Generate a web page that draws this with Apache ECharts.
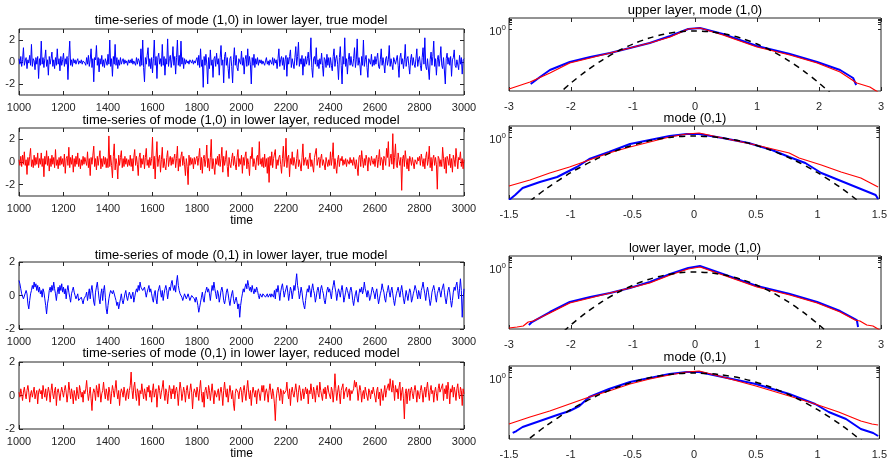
<!DOCTYPE html>
<html><head><meta charset="utf-8">
<script src="https://cdn.jsdelivr.net/npm/echarts@6/dist/echarts.min.js"></script>
<style>html,body{margin:0;padding:0;background:#fff}#c{width:890px;height:463px}</style>
</head><body><div id="c"></div>
<script>
// ---------- time axis ----------
const timeStart = 1000, timeStep = 4;
const timeTicks = [1000, 1200, 1400, 1600, 1800, 2000, 2200, 2400, 2600, 2800, 3000];

// ---------- time series ----------
const mode10TrueLower = [
.3,-.2,.5,-.4,.2,1.3,-.3,.1,.4,-.6,.2,-.1,.6,-.3,1.6,-.4,.3,.1,-.7,.4,-.2,.5,-1.5,.3,-.3,
1.9,-.2,.4,-.5,.3,1.1,-.4,.2,-1.2,.5,-.2,.3,.9,-.4,.2,-.6,.4,-.3,1.2,-.2,.3,-.8,.5,-.3,.2,
.8,-.4,.3,-.2,.5,-1.6,.4,1.9,-.3,.2,-.4,.3,-.1,.2,-.2,.1,.3,-.2,.1,-.1,.2,-.2,.1,.2,-.1,
-.3,.4,-.2,.6,-.4,.2,1.2,-.5,.3,-1.8,.4,.2,1.5,-.3,.4,-.9,.3,-.2,.6,-.4,.2,-.5,.3,.4,-.3,
.7,-.2,2.0,-.4,.3,-1.3,.5,-.2,1.6,-.3,.4,-.6,.2,-.3,.4,-.2,.1,.3,-.2,.2,-.1,.1,-.3,.2,-.1,
.2,-.1,.3,-.2,.1,.2,-.3,.4,-.2,.3,.1,-.4,1.2,-.3,2.0,-.5,-1.8,.4,-.2,.6,1.3,-.4,.3,-.6,.4,
-1.0,.3,2.0,-.3,.5,-1.5,.4,.8,-.2,.3,-.4,1.6,-.3,.5,-1.2,.3,-.2,2.1,-.4,.3,.6,-.5,.2,1.4,-.3,
.5,-1.1,.4,2.0,-.3,.6,-.4,1.9,-.2,.4,-.6,.3,-.2,.2,-.1,.1,-.2,.2,.1,-.1,.2,-.2,.1,-.1,.2,
.4,-.3,.6,-.5,1.2,-.4,.2,-2.3,.5,-.3,.7,-.2,-2.0,.4,-.6,1.1,-.3,.2,-1.4,.3,.5,-.4,.8,-.2,.3,
-1.2,.4,1.5,-.3,.2,-1.9,.5,.9,-.3,.4,-.6,-1.5,.3,.5,-.4,-1.9,.2,1.3,-.3,.6,-.5,-.8,.3,.4,-.2,
1.0,-.3,.4,-1.1,.2,.6,-.4,1.2,-.3,.5,-.2,-2.0,.4,-.3,.7,-.5,.3,-.2,.4,-.3,.2,-.1,.2,-.2,.1,
.2,-.3,.1,.4,-.2,.1,-.3,.2,.1,-.2,.4,-.3,.3,-.1,.2,-.6,.3,1.2,-.4,.2,.5,-.3,.4,-.7,.2,
.6,-1.3,.4,-.2,.5,1.1,-.5,.3,.2,-.6,.4,1.4,-.3,.5,1.8,-.4,.3,-.2,.6,-1.2,.3,-.4,.5,-.2,.3,
.9,-.3,.4,2.2,-.5,-1.4,.3,.5,-.2,1.3,-.4,.2,-.6,.3,-.2,.8,-.3,-1.3,.4,.2,-.5,.7,-.3,.4,-.5,
.4,-.3,-.8,.5,1.2,-.4,.3,.6,-.2,-1.6,.4,1.4,-.3,-2.0,.5,-.2,2.2,-.4,.3,-1.1,.2,.8,-.3,.5,-.2,
-.4,.3,1.3,-.5,.2,2.1,-.3,.4,-.2,-1.2,.5,-.3,2.0,-.4,.2,.6,-.5,-1.4,.3,.4,-.2,.7,-.4,.2,-.3,
.5,-.2,.3,.8,-.4,-.6,.2,1.2,-.3,.4,-.2,-1.0,.3,.5,-.3,.2,1.5,-.4,.3,-.2,-.7,.4,.3,-.2,-.3,
.6,-.3,-1.4,.4,.8,-.2,.3,-.6,.2,1.6,-.4,.3,.5,-.3,-1.1,.2,.7,-.3,.4,-.2,-.5,.3,1.2,-.4,.2,
.5,-.3,-.8,.4,1.3,-.2,2.2,-.4,-.7,.3,.4,-1.6,.2,.9,-.3,.5,1.9,-.4,.3,-1.2,.2,.6,-.4,.3,1.4,
-.3,-.6,.4,.5,-2.0,.3,.8,-.2,.4,-.3,.5,-1.3,.2,.4,1.1,-.3,-.5,.2,.3,-.7,.6,-.2,.4,-1.1,.2,
.3];
const mode10ReducedLower = [
.2,-.3,.5,-.4,.6,-.2,.9,-.3,.2,-1.1,.4,-.3,.5,1.2,-.4,.2,-.5,.6,-.3,.4,-.2,.8,-.5,.3,-.2,
.8,-.4,.3,-1.3,.5,-.2,1.0,-.3,.5,-.8,.3,-.4,.6,-.2,.4,-.5,1.1,-.3,.2,-.6,.4,-.3,.5,-.2,.3,
-.4,.7,-1.0,.3,.5,-.3,1.3,-.5,.4,-.2,.6,-.9,.3,-.4,.5,-.2,.8,-.4,.3,-.6,.2,-.3,.5,-.2,.4,
.5,-.3,.9,-.5,.3,-1.2,.4,-.2,.6,1.4,-.4,.3,-.7,.5,-.3,.4,1.0,-.6,.3,-.4,.5,-.2,.4,-.5,.3,
-.5,2.3,-.4,.6,-.3,-1.4,.5,1.6,-.7,.3,-.2,-1.5,.6,-.3,.4,1.0,-.5,.3,-.4,.5,-.2,.3,-.4,.2,-.3,
.6,-.4,.3,-.8,.4,1.1,-.3,.5,-.2,-1.2,.4,.8,-.5,.3,-.2,.6,-.6,.4,1.2,-.3,.2,-.5,.4,-.3,.3,
2.2,-.6,.5,-1.5,.4,1.8,-.4,.3,.6,-.9,.2,1.3,-.5,.3,-.4,-.7,.4,1.0,-.4,.2,.5,-.3,.4,-.2,.3,
.7,-.5,.3,1.4,-.8,.3,-.4,.5,.9,-.3,.5,-.2,-1.2,.3,-.4,-2.0,.6,-.3,.4,-.2,.3,-.6,.4,-.2,.3,
.5,-.3,.4,1.2,-.7,.4,-1.0,.3,.6,-.4,.2,1.5,-.5,.3,-.8,.4,2.0,-.6,.3,.4,-1.1,.3,-.2,.5,-.3,
.7,-.4,.3,1.3,-.9,.5,-.3,.2,1.0,-.4,-1.3,.4,-.2,-.5,.3,.8,-.3,.5,-.2,-.7,.4,1.1,-.4,.3,-.2,
.6,-1.0,.4,-.3,.5,.9,-.6,.3,-.2,-1.2,.5,.3,1.3,-.4,.3,-.2,-.7,.4,.6,-.3,1.8,-.2,.3,-.4,.4,
-.5,.7,-.4,.3,-1.0,.4,-1.8,.5,-.3,.9,-.5,.3,.4,1.1,-.6,.2,-.3,.4,.6,-.2,-1.0,.3,1.4,-.4,.2,
2.1,-.5,.4,.6,-1.3,.3,-.2,.9,-.3,.4,.5,-.6,.3,1.1,-.4,.2,.3,-.8,.4,1.6,-.3,.2,.4,-.3,.2,
-.6,.3,.8,-.4,.2,.3,-.9,.4,.5,1.2,-.3,.2,.4,-.5,.3,.7,-.3,.2,.3,-.7,.4,.5,-.4,.2,-.3,
.9,-.3,.4,1.7,-.6,.3,.4,-1.0,.2,.6,-.4,.3,.1,.5,-.3,.2,-.2,.3,-.4,.2,.3,-.2,.4,-.1,.2,
-.3,.4,.5,-.6,.2,.3,-1.2,.4,.6,-.4,1.0,.2,-.5,.3,-.3,.6,.2,-.8,.4,.2,-.3,.5,.1,-.2,.3,
-.4,.3,.6,-.5,.2,1.1,-.3,.4,.2,-.7,.5,.3,-.3,1.2,.4,1.8,-.4,.3,.7,-.2,2.5,-.6,.4,1.6,-.3,
-.5,.8,.2,-.3,.4,-2.5,.3,.6,-.4,1.0,.2,-.6,.3,-.8,.5,.2,-.3,.4,.3,-.6,.2,.3,-.2,.4,.1,
.5,-.3,.7,.2,-.4,.3,-.6,.4,.9,-.3,.2,1.4,-.5,.4,-.8,.3,.6,-.3,.4,-.2,-2.4,.5,.3,-.4,.2,
-.4,1.3,.3,-.6,.4,-1.0,.5,.2,-.3,.7,-.5,.3,-.9,.6,.2,-.4,1.2,.3,-.6,.4,.2,.9,-.4,.3,-.6,
.2];
const mode01TrueLower = [
.9,.7,.4,.1,0,-.2,-.3,-.1,.3,.1,-.5,-.8,-.3,.1,.3,.6,.4,.8,.5,.7,.3,.6,.2,.5,.1,
.3,-.1,.4,.2,-.2,-.6,-1.1,-.5,-.2,.3,.5,.2,.6,.3,.8,.4,.1,-.3,.2,.5,.1,.6,.3,.7,.2,
.5,.1,.4,-.2,.3,.6,.2,-.1,-.4,.1,.3,.5,.2,0,-.2,-.1,.1,-.3,-.2,-.4,-.1,-.3,-.5,-.2,-.3,
0,.2,-.3,.1,.4,-.2,.3,.6,.1,-.4,-.6,.2,.5,.8,.3,-.2,-.5,.1,.4,-.3,.3,.6,-.1,-.8,-1.1,
-.6,-.2,.1,.3,.2,.1,.3,.2,-.1,-.3,-.6,-.4,-.8,-.5,-.2,.1,-.3,-.5,-.2,.1,.3,-.1,-.3,0,.2,
.1,-.2,-.1,.2,-.4,-.1,.2,.4,.2,.6,.3,.8,.5,.6,.3,.2,.5,.2,-.1,.2,.4,.6,.2,.4,.1,
-.2,-.4,.1,.3,-.2,-.5,.2,.4,.6,.2,-.1,.3,-.3,.1,.4,.6,.3,-.2,.2,.5,.3,.7,.9,.5,.3,
.6,.2,.8,1.2,.6,.3,.1,0,-.1,-.3,-.1,.1,0,-.2,-.1,.1,-.1,-.3,-.2,0,-.1,.1,-.2,-.4,-.1,
-.3,-.6,-1.0,-.7,-.4,-.1,.2,-.2,-.4,.1,.3,.5,.2,.4,.1,-.3,.2,.6,.3,.8,.4,.1,-.2,.3,.1,
-.4,-.1,.3,.5,.2,-.3,-.5,-.2,.2,.4,.1,-.3,-.6,-.2,.1,.3,-.2,-.5,-.3,-.1,-.4,-.8,-.5,-1.3,-.6,
-.2,.1,.4,.2,.5,.7,.4,.9,.6,.3,.5,.2,.6,.3,.1,.4,.2,.5,.3,0,-.2,.1,.2,-.1,.1,
0,.1,-.1,0,.1,-.1,0,.1,-.1,.1,.2,-.1,.3,-.2,.4,.2,.6,.2,-.3,.2,.5,.7,.3,-.1,.2,
.4,.6,.2,-.3,.1,.5,.3,-.2,.2,.6,.3,.8,1.3,.6,.3,-.2,.1,.5,.2,-.3,-.6,-.8,-.3,.1,.4,
.2,.6,.3,-.1,.4,.7,.3,.1,-.4,-.1,.3,.5,.2,-.2,.4,.6,.3,.1,-.3,-.5,-.1,.3,.5,.2,.4,
.1,-.2,.3,.6,.9,.5,.2,-.3,.1,.4,.2,-.1,.3,.6,.2,-.4,-.1,.2,.5,.3,.1,-.2,.3,.5,.2,
-.3,-.6,-.2,.1,.3,-.2,-.4,.1,.4,.2,.5,.1,.3,.8,.4,.2,-.1,.3,.1,-.3,-.1,.2,.5,.3,.1,
-.2,.2,.4,-.1,-.5,-.2,.1,.3,.7,.4,.2,-.2,-.4,.1,.3,.6,.2,-.1,.3,.5,.1,-.3,-.6,-.2,.1,
.3,.5,.2,-.1,.3,.6,.2,-.2,-.5,-.1,.3,0,-.3,.1,.4,.2,-.4,-.2,.1,.3,.6,.4,.1,-.2,.3,
.1,-.2,.3,.5,.8,.4,.1,-.3,.2,.5,.2,-.2,-.6,-.3,.2,.4,.6,.3,-.1,-.4,.1,.3,.5,.2,-.1,
.3,.5,.7,.2,-.2,-.5,-.1,.3,.5,.2,-.3,-.7,-.3,.2,.5,.3,.6,.8,.3,-.2,.4,1.0,.3,-1.3,-.2,
.4];
const mode01ReducedLower = [
.2,-.1,.4,.1,-.3,.2,.5,.1,-.2,.3,.6,.2,-.4,.1,.3,-.1,.2,.5,-.2,.1,.3,-.5,.2,.4,.1,
.3,-.2,.6,.2,-.1,.4,-.3,.1,.5,.2,-.4,.3,.7,.1,-.2,.3,.5,-.6,.2,.4,.1,-.3,.2,.5,.2,
-.1,.3,.6,.2,-.4,.1,.8,.3,-.2,.4,.1,-.5,.3,.2,-.3,.5,.1,-.2,.6,.3,-.1,.2,-.4,.3,.1,
.4,.9,.2,-.3,.1,.5,-.2,-.9,.1,.4,.2,-.3,.6,.3,-.1,.7,.2,-.4,.1,.3,.8,.2,-.2,.4,.1,
-.3,.5,.2,-.5,.1,.6,.3,-.1,.4,.9,.2,-.2,.3,-.6,.1,.4,.2,-.1,.5,.1,-.3,.2,.4,-.2,.3,
.6,1.4,.3,-.2,.5,.8,.1,-.3,.4,.2,-.6,.3,.1,.7,.2,-.2,.4,.1,-.3,.5,.2,.6,-.1,.3,-.4,
.3,.7,-.1,.2,.4,-.7,.1,.6,.3,-.2,.2,.5,.9,.1,-.3,.4,.2,-.5,.1,.6,.3,-.2,.4,.1,.6,
-.2,.3,.5,.1,-.6,.2,.8,.4,-.3,.1,.5,.2,-.4,.3,.6,.1,-.2,.3,.7,.2,-.8,.1,.4,.2,-.1,
.5,.2,-.3,.4,.9,.1,-.4,.2,-.7,.3,.5,.1,-.2,.6,.3,-.3,.2,.7,.1,-.5,.3,.4,-.1,.2,.4,
-.3,.2,.5,.1,-.6,.3,.8,.2,-.1,.4,-.4,.1,.6,.2,-.2,.3,-.5,-.9,.1,.4,.5,.2,-.2,.3,.5,
.2,-.4,.3,.6,.1,-.3,.4,.9,.2,-.2,.3,-.6,.1,.5,.2,-.1,.3,-.5,.2,.4,.1,-.3,.2,.6,.2,
.6,-.3,.2,.4,.1,-.4,.3,.7,.2,-.2,.4,.1,-.5,-1.5,-.2,.3,.5,.1,-.3,.4,.2,-.5,.3,.1,.2,
.3,.8,.1,-.2,.4,-.6,.2,.5,.1,-.1,.3,.7,.2,-.4,.2,.6,.3,-.3,.1,.4,-.2,.2,.5,.1,.4,
-.5,.3,.1,.7,.2,-.2,.5,.2,-.4,.3,.6,.1,-.1,.8,.3,.2,-.3,.4,.1,.5,-.2,.3,.6,.2,.1,
-.2,.5,.3,-.4,.2,1.3,.4,-.3,.2,.6,.1,-.5,.3,.4,.7,-.2,.2,.3,.5,-.1,.2,.4,-.3,.3,.1,
.2,.4,.9,.5,.8,.4,-.3,.2,.6,.3,-.4,.1,.3,-.2,.5,.2,.1,-.3,.4,.2,-.2,.3,.1,.5,.2,
.1,-.4,.3,.5,-.2,.2,-.6,.4,.1,-.3,.2,.6,-.1,.3,.2,.7,.3,1.0,.5,.2,.9,.4,-.3,.6,.2,
.4,-.2,.5,.8,-.3,.2,.5,-.2,-1.4,.1,.4,-.5,.2,.4,-.3,.3,.5,.1,-.2,.3,.6,.2,-.4,.3,.1,
-.2,.3,.6,.2,-.4,.2,.5,-.1,.4,.8,.2,-.3,.3,.6,.1,.3,-.4,.2,.5,.1,-.3,.4,.7,.2,.1,
.2,.7,-.3,.4,.1,.6,-.2,.8,.3,-.5,.4,.2,.6,-.1,.5,.2,-.3,.4,.7,.1,-.2,.5,.3,-.6,.4,
.1];

// ---------- PDFs on log axis ----------
// upper layer, mode (1,0)
const up10BlueX = [-2.65,-2.5,-2.34,-2.02,-1.69,-1.37,-1.05,-0.73,-0.40,-0.11,0.08,0.45,1.0,1.53,1.97,2.34,2.55,2.6];
const up10BlueY = [.000143,.000441,.00136,.00493,.0110,.0210,.0470,.1050,.3240,1,1.175,.4471,.0648,.0179,.00493,.00136,.000376,.000122];
const up10RedX = [-3.0,-2.66,-2.34,-2.02,-1.69,-1.37,-1.05,-0.73,-0.40,-0.11,0.08,0.45,1.0,1.53,1.97,2.34,2.61,2.82,2.95];
const up10RedY = [.000064,.000197,.00084,.0042,.00939,.021,.047,.105,.2759,1,1.175,.3806,.0552,.0152,.0042,.000987,.000168,.0000883,.0000395];
const up10GaussX = [-2.25,-2,-1.75,-1.5,-1.25,-1,-0.75,-0.5,-0.25,0,0.25,0.5,0.75,1,1.25,1.5,1.75,2,2.25];
const up10GaussY = [.0000182,.000168,.00119,.00653,.0276,.0894,.2234,.4295,.636,.7247,.636,.4295,.2234,.0894,.0276,.00653,.00119,.000168,.0000182];
// upper layer, mode (0,1)
const up01BlueX = [-1.5,-1.45,-1.39,-1.25,-1.11,-0.95,-0.85,-0.69,-0.52,-0.36,-0.20,-0.06,0.04,0.23,0.44,0.63,0.77,0.90,1.03,1.17,1.31,1.47,1.49];
const up01BlueY = [.0000395,.0000883,.000272,.000715,.0016,.008,.029,.0894,.324,.617,1.175,1.621,1.621,.8513,.3806,.1234,.04,.0152,.00304,.000987,.00032,.0000883,.0000464];
const up01RedX = [-1.5,-1.33,-1.17,-1.01,-0.85,-0.69,-0.52,-0.36,-0.20,-0.06,0.04,0.23,0.50,0.77,0.85,1.03,1.19,1.35,1.49];
const up01RedY = [.000376,.000987,.00304,.008,.0247,.0761,.1999,.4471,1,1.621,1.904,.8513,.2759,.0761,.034,.011,.00358,.00136,.00032];
const up01GaussX = [-1.4,-1.2,-1,-0.8,-0.6,-0.4,-0.2,0,0.2,0.4,0.6,0.8,1,1.2,1.4];
const up01GaussY = [.000011,.000239,.00319,.0267,.140,.4563,.927,1.175,.927,.4563,.140,.0267,.00319,.000239,.000011];
// lower layer, mode (1,0)
const lo10BlueX = [-2.68,-2.63,-2.34,-2.02,-1.69,-1.37,-1.05,-0.73,-0.40,-0.11,0.08,0.45,1.0,1.53,1.97,2.34,2.61,2.63];
const lo10BlueY = [.0000883,.000143,.000715,.00358,.008,.0152,.034,.0894,.324,.8513,1.175,.324,.047,.013,.00358,.00084,.000197,.000064];
const lo10RedX = [-3.0,-2.87,-2.77,-2.69,-2.61,-2.34,-2.02,-1.69,-1.37,-1.05,-0.73,-0.40,-0.11,0.08,0.45,1.0,1.53,1.97,2.34,2.58,2.66,2.77,2.87,2.98];
const lo10RedY = [.0000545,.000064,.0000752,.000143,.000168,.000609,.00304,.00681,.0152,.034,.0761,.2759,.7247,1,.2759,.04,.011,.00304,.000715,.000197,.000168,.0000883,.0000752,.0000395];
const lo10GaussX = [-2.25,-2,-1.75,-1.5,-1.25,-1,-0.75,-0.5,-0.25,0,0.25,0.5,0.75,1,1.25,1.5,1.75,2,2.25];
const lo10GaussY = [.0000095,.0000908,.000668,.00374,.0162,.0534,.1352,.2628,.3915,.4471,.3915,.2628,.1352,.0534,.0162,.00374,.000668,.0000908,.0000095];
// lower layer, mode (0,1)
const lo01BlueX = [-1.47,-1.44,-1.39,-1.25,-1.11,-1.01,-0.93,-0.85,-0.69,-0.52,-0.36,-0.20,-0.06,0.04,0.23,0.50,0.77,0.98,1.09,1.23,1.35,1.45,1.49];
const lo01BlueY = [.000122,.000168,.00032,.00084,.00221,.0042,.00939,.04,.1449,.4471,.8513,1.621,2.237,2.237,1,.324,.0648,.013,.00358,.00116,.000232,.000122,.0000752];
const lo01RedX = [-1.5,-1.33,-1.17,-1.01,-0.85,-0.69,-0.52,-0.36,-0.20,-0.06,0.04,0.23,0.50,0.77,0.98,1.17,1.35,1.44,1.49];
const lo01RedY = [.000518,.0016,.0042,.013,.04,.105,.324,.7247,1.38,2.237,2.628,1,.2349,.047,.013,.00358,.00084,.000518,.000441];
const lo01GaussX = [-1.4,-1.2,-1,-0.8,-0.6,-0.4,-0.2,0,0.2,0.4,0.6,0.8,1,1.2,1.4];
const lo01GaussY = [.0000179,.000387,.00517,.0433,.2275,.740,1.503,1.904,1.503,.740,.2275,.0433,.00517,.000387,.0000179];

// log axis: one labelled decade plus minor ticks above it
const pdfMajorTicks = [1];
const pdfAllTicks = [1, 2, 3, 4, 5];
const pdfYMin = 0.0000464, pdfYMax = 5.88;

// ---------- titles ----------
const leftTitles = [
  'time-series of mode (1,0) in lower layer, true model',
  'time-series of mode (1,0) in lower layer, reduced model',
  'time-series of mode (0,1) in lower layer, true model',
  'time-series of mode (0,1) in lower layer, reduced model'];
const rightTitles = ['upper layer, mode (1,0)', 'mode (0,1)', 'lower layer, mode (1,0)', 'mode (0,1)'];

// ---------- layout ----------
const FONT = '"Liberation Sans", Arial, Helvetica, sans-serif';
const AX = '#262626';
const leftBoxes = [{top:29,h:66},{top:128,h:68},{top:262,h:67},{top:362,h:67}];
const rightBoxes = [{top:18,h:73},{top:126,h:73},{top:256,h:73},{top:366,h:73}];
const leftTitleY = [14,114,249,347];
const rightTitleY = [4,112,242,351];

const grids = [], xAxes = [], yAxes = [], series = [], titles = [];
function pairs(xs, ys){ return xs.map((x,i)=>[x, ys[i]]); }
function tsPairs(vals){ return vals.map((v,i)=>[timeStart + i*timeStep, v]); }

function addAxes(g, xo, yo, showName){
  const tick = {inside:true, length:4, lineStyle:{color:AX, width:1}};
  const line = {show:false, onZero:false};
  xAxes.push(Object.assign({type:'value', gridIndex:g, position:'bottom', axisLine:line, axisTick:tick,
    axisLabel:{color:AX, fontSize:11, fontFamily:FONT, margin:xo.margin, formatter:(v)=>String(v)}, splitLine:{show:false}}, xo.base, showName ? {
    name:'time', nameLocation:'middle', nameGap:17, nameTextStyle:{color:'#000', fontSize:12, fontFamily:FONT}} : {}));
  xAxes.push(Object.assign({type:'value', gridIndex:g, position:'top', axisLine:line, axisTick:tick,
    axisLabel:{show:false}, splitLine:{show:false}}, xo.base));
  yAxes.push(Object.assign({gridIndex:g, position:'left', axisLine:line, axisTick:Object.assign({}, tick, yo.tick||{}),
    axisLabel:Object.assign({color:AX, fontSize:11, fontFamily:FONT, margin:4}, yo.label||{}), splitLine:{show:false}}, yo.base));
  yAxes.push(Object.assign({gridIndex:g, position:'right', axisLine:line, axisTick:Object.assign({}, tick, yo.tick||{}),
    axisLabel:{show:false}, splitLine:{show:false}}, yo.base));
}

const leftData = [
  {vals: mode10TrueLower, color:'#0000ff', ymin:-3, ymax:3, ticks:[-2,0,2]},
  {vals: mode10ReducedLower, color:'#ff0000', ymin:-3, ymax:3, ticks:[-2,0,2]},
  {vals: mode01TrueLower, color:'#0000ff', ymin:-2, ymax:2, ticks:[-2,0,2]},
  {vals: mode01ReducedLower, color:'#ff0000', ymin:-2, ymax:2, ticks:[-2,0,2]}];

leftData.forEach((d, k) => {
  const g = grids.length;
  const b = leftBoxes[k];
  grids.push({left:19, width:445, top:b.top, height:b.h, show:true, borderColor:AX, borderWidth:1, backgroundColor:'transparent'});
  addAxes(g, {base:{min:timeTicks[0], max:timeTicks[timeTicks.length-1], interval:200}, margin:7},
    {base:{type:'value', min:d.ymin, max:d.ymax}, label:{customValues:d.ticks}, tick:{customValues:d.ticks}}, k===1 || k===3);
  series.push({type:'line', xAxisIndex:2*g, yAxisIndex:2*g, data:tsPairs(d.vals), showSymbol:false, symbol:'none',
    lineStyle:{color:d.color, width:1}, animation:false, silent:true});
  titles.push({text:leftTitles[k], left:241, top:leftTitleY[k], textAlign:'center', padding:0,
    textStyle:{fontSize:13, fontWeight:'normal', color:'#000', fontFamily:FONT}});
});

const rightData = [
  {bx:up10BlueX, by:up10BlueY, rx:up10RedX, ry:up10RedY, gx:up10GaussX, gy:up10GaussY, xmin:-3, xmax:3, iv:1},
  {bx:up01BlueX, by:up01BlueY, rx:up01RedX, ry:up01RedY, gx:up01GaussX, gy:up01GaussY, xmin:-1.5, xmax:1.5, iv:0.5},
  {bx:lo10BlueX, by:lo10BlueY, rx:lo10RedX, ry:lo10RedY, gx:lo10GaussX, gy:lo10GaussY, xmin:-3, xmax:3, iv:1},
  {bx:lo01BlueX, by:lo01BlueY, rx:lo01RedX, ry:lo01RedY, gx:lo01GaussX, gy:lo01GaussY, xmin:-1.5, xmax:1.5, iv:0.5}];

rightData.forEach((d, k) => {
  const g = grids.length;
  const b = rightBoxes[k];
  grids.push({left:509, width:372, top:b.top, height:b.h, show:true, borderColor:AX, borderWidth:1, backgroundColor:'transparent'});
  addAxes(g, {base:{min:d.xmin, max:d.xmax, interval:d.iv}, margin:10},
    {base:{type:'log', logBase:10, min:pdfYMin, max:pdfYMax},
     tick:{customValues:pdfAllTicks, length:3},
     label:{margin:3, padding:[5,0,0,0], customValues:pdfMajorTicks, formatter:()=>'{a|10}{b|0}',
       rich:{a:{fontSize:11, color:AX, fontFamily:FONT}, b:{fontSize:8, color:AX, fontFamily:FONT, padding:[0,0,7,0]}}}}, false);
  const xi = 2*g, yi = 2*g;
  series.push({type:'line', xAxisIndex:xi, yAxisIndex:yi, data:pairs(d.bx, d.by), showSymbol:false, symbol:'none',
    lineStyle:{color:'#0000ff', width:2}, animation:false, silent:true, clip:true});
  series.push({type:'line', xAxisIndex:xi, yAxisIndex:yi, data:pairs(d.rx, d.ry), showSymbol:false, symbol:'none',
    lineStyle:{color:'#ff0000', width:1.2}, animation:false, silent:true, clip:true});
  series.push({type:'line', xAxisIndex:xi, yAxisIndex:yi, data:pairs(d.gx, d.gy), showSymbol:false, symbol:'none', smooth:0.3,
    lineStyle:{color:'#000', width:1.5, type:[6,5]}, animation:false, silent:true, clip:true});
  titles.push({text:rightTitles[k], left:695, top:rightTitleY[k], textAlign:'center', padding:0,
    textStyle:{fontSize:13, fontWeight:'normal', color:'#000', fontFamily:FONT}});
});

const chart = echarts.init(document.getElementById('c'), null, {renderer:'canvas'});
chart.setOption({animation:false, backgroundColor:'#fff', title:titles, grid:grids, xAxis:xAxes, yAxis:yAxes, series:series});
</script>
</body></html>
